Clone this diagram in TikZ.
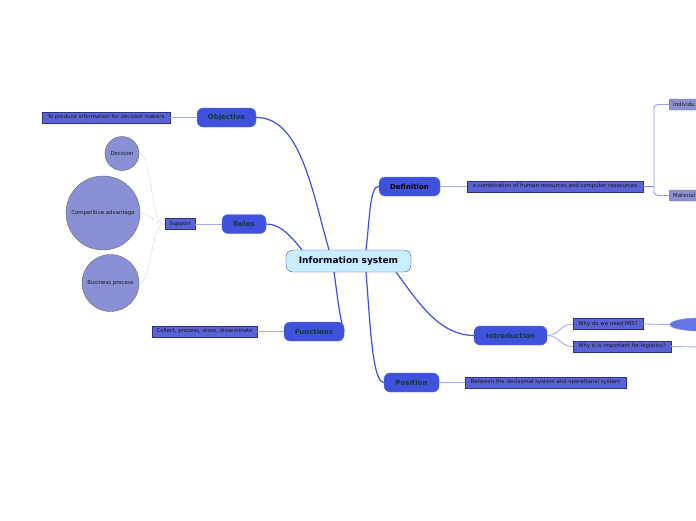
\documentclass[tikz,border=0pt]{standalone}
\usepackage{fontspec}
\setmainfont{DejaVu Sans}
\usetikzlibrary{shapes.geometric}
\definecolor{pillblue}{HTML}{4052DC}
\definecolor{boxblue}{HTML}{5A63D6}
\definecolor{boxedge}{HTML}{2C3180}
\definecolor{circfill}{HTML}{8A90D6}
\definecolor{pilltext}{HTML}{123838}
\definecolor{mainline}{HTML}{3F51D9}
\definecolor{subline}{HTML}{A3ACF2}
\definecolor{centerfill}{HTML}{C9EEFF}
\definecolor{greybox}{HTML}{8A90D0}
\tikzset{
  pill/.style={draw=pillblue!85!white, fill=pillblue, rounded corners=6pt, minimum height=19pt, inner xsep=3pt, font=\fontsize{7}{8}\selectfont\bfseries, text=pilltext},
  leafbox/.style={draw=boxedge, fill=boxblue, minimum height=11pt, inner xsep=2pt, inner ysep=0pt, font=\fontsize{5.4}{6}\selectfont, text=black!90},
  greyleaf/.style={draw=black!55, fill=greybox, rounded corners=1pt, minimum height=11pt, inner xsep=4pt, inner ysep=0pt, font=\fontsize{5.4}{6}\selectfont, text=black!90, anchor=west},
  bubble/.style={circle, draw=black!60, fill=circfill, inner sep=0pt, font=\fontsize{5.4}{6}\selectfont, text=black!90},
  mainconn/.style={draw=mainline, line width=1.2pt},
  subconn/.style={draw=subline, line width=0.9pt},
  dotconn/.style={draw=subline, line width=0.5pt, densely dotted},
}
\begin{document}
\begin{tikzpicture}[x=1pt,y=-1pt]
\clip (0,0) rectangle (696,520);
\fill[white] (0,0) rectangle (696,520);

% center
\node[draw=mainline, fill=centerfill, rounded corners=7pt, minimum width=125pt, minimum height=22pt, font=\fontsize{9}{10}\selectfont\bfseries, text=black!85!blue] (center) at (348.5,261) {Information system};

% pills
\node[pill, minimum width=59pt] (obj) at (226.5,117.5) {Objective};
\node[pill, minimum width=44pt] (roles) at (244,224) {Roles};
\node[pill, minimum width=60pt] (func) at (314,331.5) {Functions};
\node[pill, minimum width=61pt, text=black] (def) at (409.5,186.5) {Definition};
\node[pill, minimum width=73pt] (intro) at (510.5,335.5) {Introduction};
\node[pill, minimum width=55pt] (pos) at (411.5,382.5) {Position};

% leaf boxes
\node[leafbox, minimum width=128pt] (objbox) at (106,117.5) {To produce information for decision makers};
\node[leafbox, minimum width=30pt] (support) at (180,224) {Support};
\node[leafbox, minimum width=105pt] (funcbox) at (204.5,331.5) {Collect, process, store, disseminate};
\node[leafbox, minimum width=176pt] (defbox) at (555,186.5) {a combination of human resources and computer ressources};
\node[leafbox, minimum width=70pt] (mis) at (608,324) {Why do we need MIS?};
\node[leafbox, minimum width=98pt] (logi) at (622,346.5) {Why it is important for logistics?};
\node[leafbox, minimum width=161pt] (posbox) at (545.5,382.5) {Between the decisional system and operational system};

% circles
\node[bubble, minimum size=34pt] (decision) at (122,153.5) {Decision};
\node[bubble, minimum size=74pt] (compet) at (103,213) {Competitive advantage};
\node[bubble, minimum size=57pt] (bproc) at (110.5,283) {Business process};

% partly visible nodes on the right
\node[greyleaf, minimum width=40pt, align=left, text width=32pt] (indiv) at (669,104.5) {Individu};
\node[greyleaf, minimum width=40pt, align=left, text width=32pt] (material) at (669,195.5) {Material};
\node[ellipse, fill=pillblue!80!white, draw=pillblue!70!white, minimum width=60pt, minimum height=13pt] (ell) at (700,324.5) {};
\coordinate (logiend) at (700,347);

% main connectors
\draw[mainconn] (329,250) .. controls (312,190) and (300,117) .. (obj.east);
\draw[mainconn] (302,250) .. controls (290,235) and (280,224) .. (roles.east);
\draw[mainconn] (334,272) .. controls (338,300) and (340,320) .. (func.east);
\draw[mainconn] (366,250) .. controls (370,215) and (370,186) .. (def.west);
\draw[mainconn] (396,272) .. controls (420,305) and (440,335) .. (intro.west);
\draw[mainconn] (366,272) .. controls (370,320) and (372,382) .. (pos.west);

% sub connectors
\draw[subconn] (obj.west) -- (objbox.east);
\draw[subconn] (roles.west) -- (support.east);
\draw[subconn] (func.west) -- (funcbox.east);
\draw[subconn] (def.east) -- (defbox.west);
\draw[subconn] (pos.east) -- (posbox.west);
\draw[subconn] (intro.east) .. controls (560,335) and (560,324) .. (mis.west);
\draw[subconn] (intro.east) .. controls (560,336) and (560,346.5) .. (logi.west);
\draw[subconn] (mis.east) -- (ell.west);
\draw[subconn] (logi.east) -- (logiend);
\draw[draw=mainline!70!white, line width=0.9pt] (defbox.east) -- (654,186.5);
\draw[draw=mainline!55!white, line width=0.9pt, rounded corners=4pt] (indiv.west) -| (654,186.5) |- (material.west);

% dotted connectors to circles
\draw[dotconn] (support.west) .. controls (150,224) and (152,153.5) .. (decision.east);
\draw[dotconn] (support.west) .. controls (155,224) and (150,213) .. (compet.east);
\draw[dotconn] (support.west) .. controls (150,224) and (152,283) .. (bproc.east);
\end{tikzpicture}
\end{document}
